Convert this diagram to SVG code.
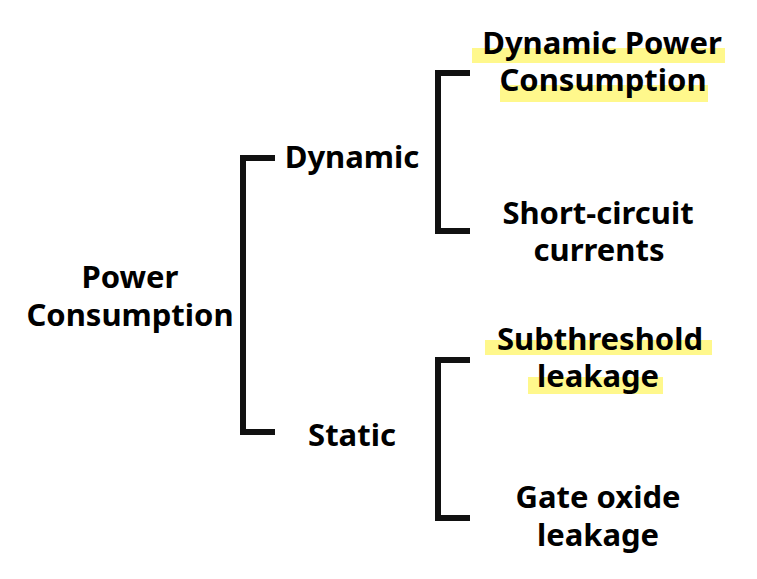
<svg xmlns="http://www.w3.org/2000/svg" width="757" height="579" viewBox="0 0 757 579">
<style>
.t{font-family:"Noto Sans","Open Sans","DejaVu Sans",sans-serif;font-weight:bold;font-size:31px;fill:#000;text-anchor:middle}
.br{fill:none;stroke:#111;stroke-width:6;stroke-linejoin:miter;stroke-linecap:butt}
.hl{fill:#FFF88C}
</style>
<rect width="757" height="579" fill="#fff"/>
<g id="connectors">
<path class="br" d="M275,158 H243 V432 H275"/>
<path class="br" d="M470,73 H438 V231 H470"/>
<path class="br" d="M470,360 H438 V518 H470"/>
</g>
<g id="root"><text class="t" x="130" y="288">Power</text><text class="t" x="130" y="326">Consumption</text></g>
<g id="dynamic"><text class="t" x="352" y="168">Dynamic</text></g>
<g id="static"><text class="t" x="352" y="446">Static</text></g>
<g id="dynamic-power">
<rect class="hl" x="472" y="48" width="253" height="15"/>
<rect class="hl" x="500" y="85" width="208" height="17"/>
<text class="t" x="602" y="54">Dynamic Power</text><text class="t" x="603" y="91">Consumption</text></g>
<g id="short-circuit"><text class="t" x="598" y="224">Short-circuit</text><text class="t" x="599" y="261">currents</text></g>
<g id="subthreshold">
<rect class="hl" x="485" y="340" width="227" height="15"/>
<rect class="hl" x="528" y="377" width="135" height="17"/>
<text class="t" x="600" y="350">Subthreshold</text><text class="t" x="598" y="387">leakage</text></g>
<g id="gate-oxide"><text class="t" x="598" y="508">Gate oxide</text><text class="t" x="598" y="546">leakage</text></g>
</svg>
